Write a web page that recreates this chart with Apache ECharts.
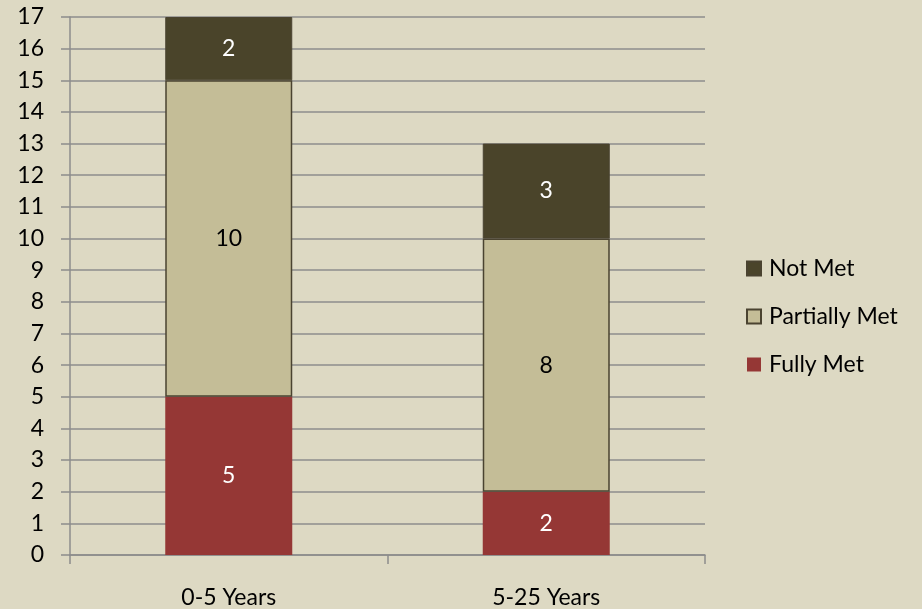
<!DOCTYPE html>
<html><head><meta charset="utf-8">
<script src="https://cdn.jsdelivr.net/npm/echarts@6/dist/echarts.min.js"></script>
<style>html,body{margin:0;padding:0;background:#ddd9c3}#c{width:922px;height:609px}</style>
</head><body><div id="c"></div>
<script>
const categories = ['0-5 Years', '5-25 Years'];
const fullyMet = [5, 2];
const partiallyMet = [10, 8];
const notMet = [2, 3];
const yTicks = [0,1,2,3,4,5,6,7,8,9,10,11,12,13,14,15,16,17];

const FONT = 'Lato';
const FS = 23;
const chart = echarts.init(document.getElementById('c'));
const lbl = {show:true, position:'inside', color:'#ffffff', fontFamily:FONT, fontSize:FS};
chart.setOption({
  backgroundColor:'#ddd9c3',
  animation:false,
  grid:{left:70, right:217, top:17, bottom:54},
  legend:{
    orient:'vertical', left:741, top:252, itemWidth:14, itemHeight:14, itemGap:25,
    icon:'rect',
    data:['Not Met','Partially Met','Fully Met'],
    textStyle:{fontFamily:FONT, fontSize:FS, color:'#000', padding:[0,0,0,3]}
  },
  xAxis:{
    type:'category', data:categories,
    axisLine:{lineStyle:{color:'#8c8c8c', width:1.5}},
    axisTick:{show:true, length:9, lineStyle:{color:'#8c8c8c', width:1.5}},
    axisLabel:{margin:31, color:'#000', fontFamily:FONT, fontSize:FS}
  },
  yAxis:{
    type:'value', min:yTicks[0], max:yTicks[yTicks.length-1], interval:1,
    axisLine:{show:true, lineStyle:{color:'#8c8c8c', width:1.5}},
    axisTick:{show:true, length:9, lineStyle:{color:'#8c8c8c', width:1.5}},
    splitLine:{lineStyle:{color:'#8c8c8c', width:1.5}},
    axisLabel:{margin:26, color:'#000', fontFamily:FONT, fontSize:FS}
  },
  series:[
    {name:'Fully Met', type:'bar', stack:'s', data:fullyMet, barWidth:'40%',
     itemStyle:{color:'#953735'}, label:lbl},
    {name:'Partially Met', type:'bar', stack:'s', data:partiallyMet,
     itemStyle:{color:'#c4bd97', borderColor:'#4a4330', borderWidth:1.5},
     label:Object.assign({}, lbl, {color:'#000'})},
    {name:'Not Met', type:'bar', stack:'s', data:notMet,
     itemStyle:{color:'#4a442a', borderColor:'#4a4330', borderWidth:1}, label:lbl}
  ]
});
</script></body></html>
